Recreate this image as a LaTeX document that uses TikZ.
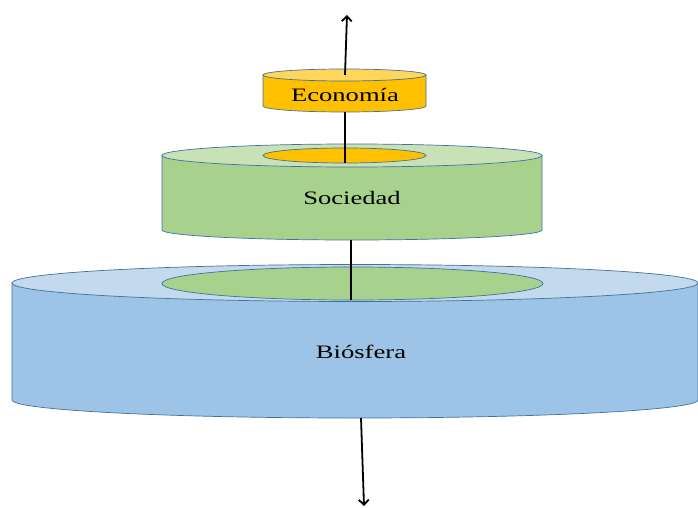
\documentclass[tikz,border=0pt]{standalone}
\usepackage{fontspec}
\setmainfont{Liberation Serif}[FakeStretch=1.4]
\usetikzlibrary{arrows.meta}
\definecolor{EcoOrange}{RGB}{255,192,0}
\definecolor{EcoTop}{RGB}{255,214,92}
\definecolor{SocGreen}{RGB}{169,209,142}
\definecolor{SocTop}{RGB}{200,225,182}
\definecolor{BioBlue}{RGB}{157,195,230}
\definecolor{BioTop}{RGB}{194,217,238}
\definecolor{EdgeBlue}{RGB}{65,113,156}

\begin{document}
\begin{tikzpicture}[x=1pt,y=-1pt,>={Straight Barb[length=5pt,width=10pt]}]
  \tikzset{
    disc/.style={draw=EdgeBlue,line width=0.7pt},
    axis/.style={line width=1.8pt,black},
    label/.style={font=\fontsize{19}{22}\selectfont,text=black}
  }
  \useasboundingbox (0,0) rectangle (698,508);
  % points on the axis
  \coordinate (up-end) at (347,15);
  \coordinate (eco-top) at (345,75);
  \coordinate (eco-bot) at (345,112);
  \coordinate (soc-in) at (345,163);
  \coordinate (soc-bot) at (351,240);
  \coordinate (bio-in) at (351,300);
  \coordinate (bio-bot) at (361,418);
  \coordinate (down-end) at (364,506);
  % Biosfera
  \draw[disc,fill=BioBlue] (12,283) -- (12,400) arc[start angle=180,end angle=0,x radius=343,y radius=18]
    -- (698,283) -- cycle;
  \draw[disc,fill=BioTop] (355,283) ellipse[x radius=343,y radius=18.5];
  \draw[disc,fill=SocGreen] (352.5,283.5) ellipse[x radius=190.5,y radius=16.5];
  % Sociedad
  \draw[disc,fill=SocGreen] (162,155.5) -- (162,230) arc[start angle=180,end angle=0,x radius=190,y radius=10]
    -- (542,155.5) -- cycle;
  \draw[disc,fill=SocTop] (352,155.5) ellipse[x radius=190,y radius=11.5];
  \draw[disc,fill=EcoOrange] (344.5,155.5) ellipse[x radius=81.5,y radius=7.5];
  % Economia
  \draw[disc,fill=EcoOrange] (263,75) -- (263,106) arc[start angle=180,end angle=0,x radius=81.5,y radius=6]
    -- (426,75) -- cycle;
  \draw[disc,fill=EcoTop] (344.5,75) ellipse[x radius=81.5,y radius=6];
  % names
  \node[label] (eco) at (345,95) {Economía};
  \node[label] (soc) at (352,198) {Sociedad};
  \node[label] (bio) at (361,352) {Biósfera};
  % axis through the discs
  \draw[axis,->] (eco-top) -- (up-end);
  \draw[axis] (eco-bot) -- (soc-in);
  \draw[axis] (soc-bot) -- (bio-in);
  \draw[axis,->] (bio-bot) -- (down-end);
\end{tikzpicture}
\end{document}
